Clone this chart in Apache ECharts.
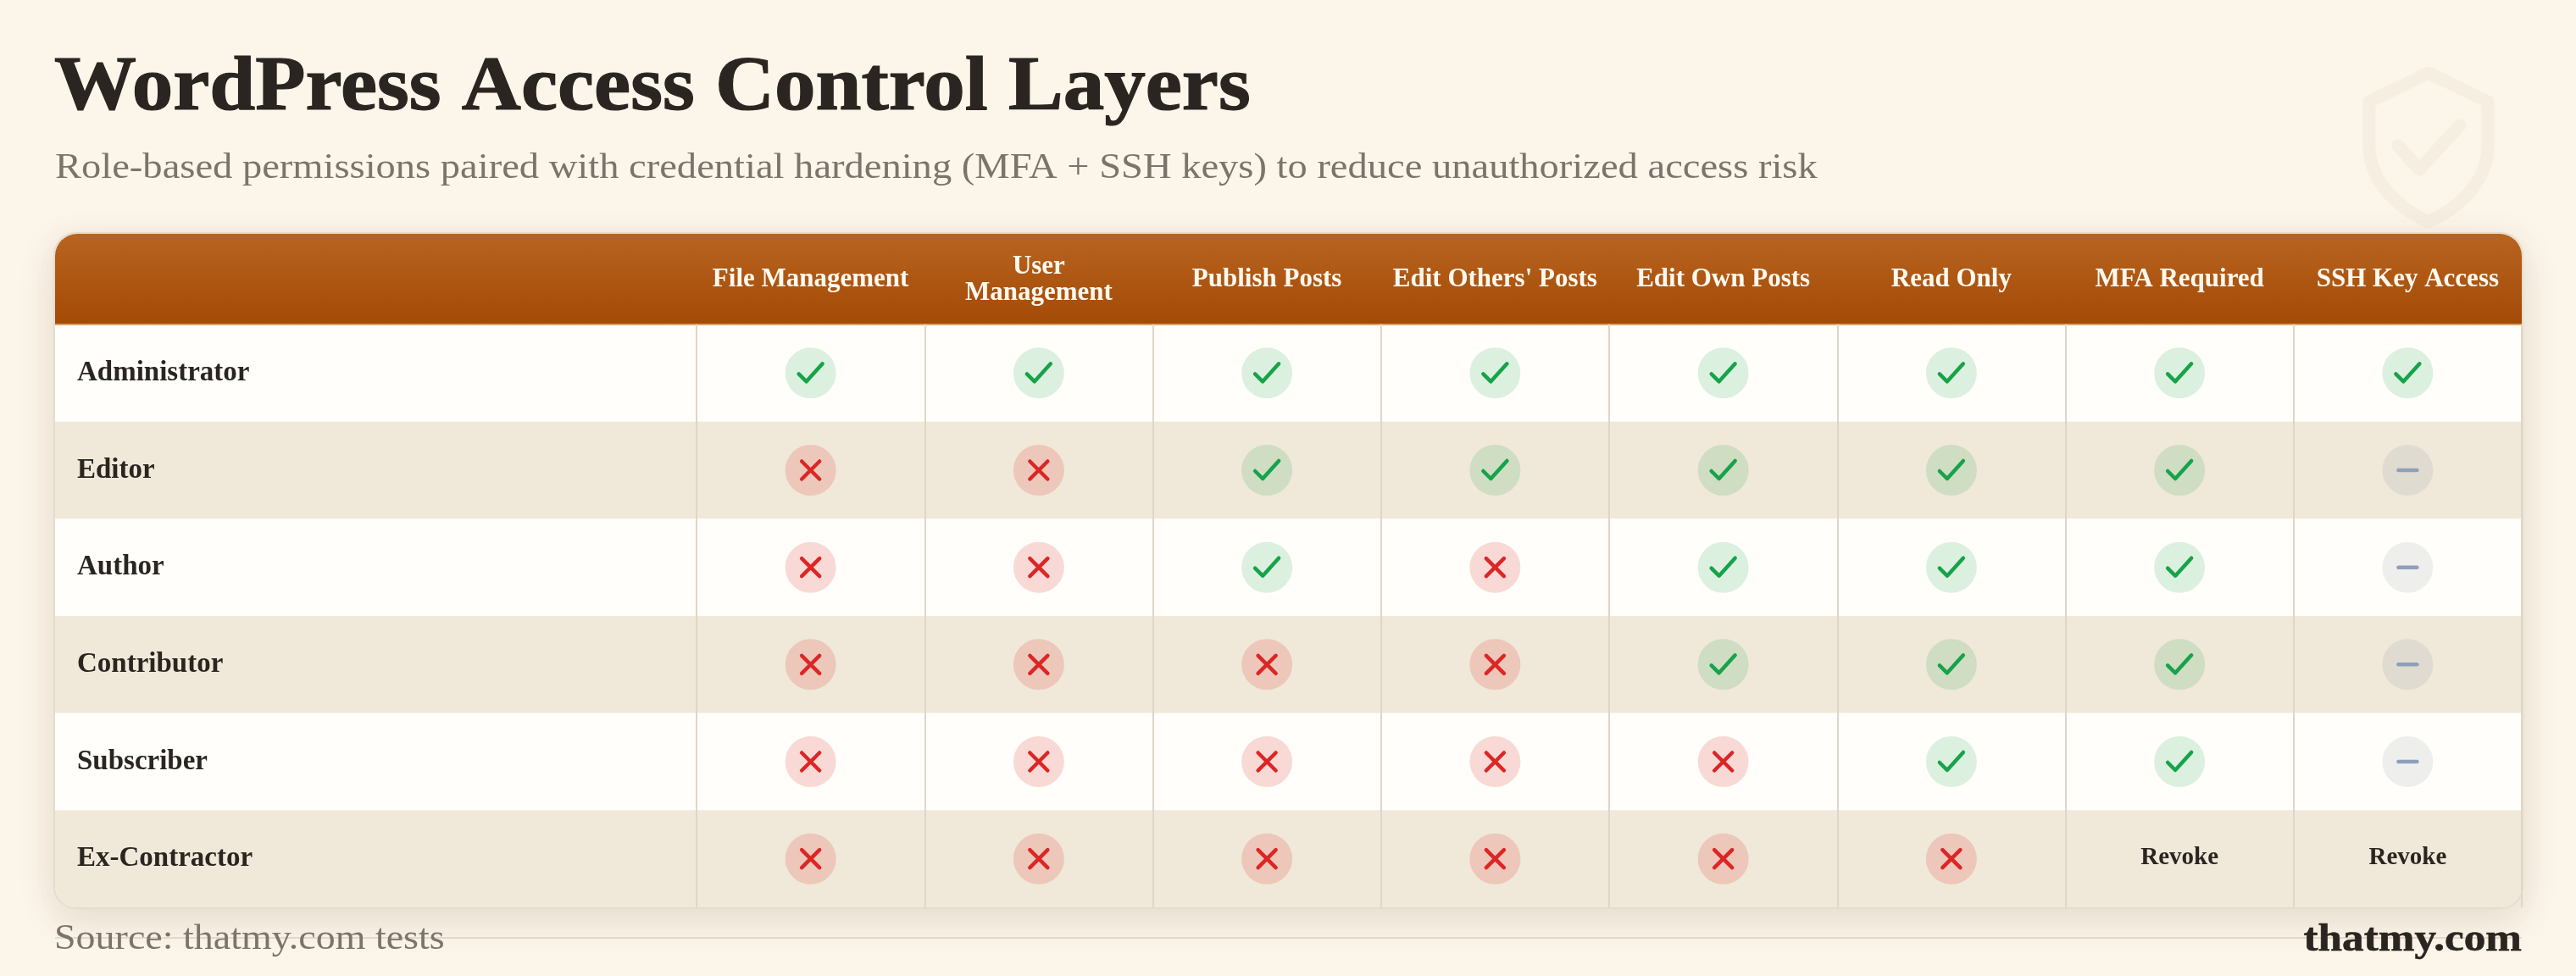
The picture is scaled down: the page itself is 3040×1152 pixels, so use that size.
<!DOCTYPE html>
<html>
<head>
<meta charset="utf-8">
<style>html,body{margin:0;padding:0;background:#fcf5ea}#chart{width:3040px;height:1152px}</style>
<script src="https://cdn.jsdelivr.net/npm/echarts@6/dist/echarts.min.js"></script>
</head>
<body>
<div id="chart"></div>
<script>
const permissions = ['File Management','User\nManagement','Publish Posts',"Edit Others' Posts",'Edit Own Posts','Read Only','MFA Required','SSH Key Access'];
const roles = ['Administrator','Editor','Author','Contributor','Subscriber','Ex-Contractor'];
const statusNames = ['yes','no','na','revoke'];
const administrator = ['yes','yes','yes','yes','yes','yes','yes','yes'];
const editor        = ['no','no','yes','yes','yes','yes','yes','na'];
const author        = ['no','no','yes','no','yes','yes','yes','na'];
const contributor   = ['no','no','no','no','yes','yes','yes','na'];
const subscriber    = ['no','no','no','no','no','yes','yes','na'];
const exContractor  = ['no','no','no','no','no','no','revoke','revoke'];
const matrix = [administrator, editor, author, contributor, subscriber, exContractor];

const serif = '"Liberation Serif", serif';
const T = {l:65, r:2976, top:276, head:383, bottom:1071, grid:822};
const rowH = (T.bottom - T.head) / roles.length;
const data = [];
matrix.forEach((row, r) => row.forEach((s, c) => data.push([c, r, statusNames.indexOf(s)])));

const bands = roles.map((_, i) => ({
  type:'rect', z:-5,
  shape:{x:T.l, y:T.head + i*rowH, width:T.r-T.l, height:rowH, r: i===roles.length-1 ? [0,0,24,24] : 0},
  style:{fill: i%2 ? '#f0e8d9' : '#fffefa'}
}));
const wm = {fill:'none', stroke:'#f7eee2', lineWidth:15, lineJoin:'round', lineCap:'round'};
const label = (text, x, y, size, weight, fill, scaleX, align, thick) => ({
  type:'text', z:-2, x, y, scaleX, style:{text, x:0, y:0, align:align||'left', verticalAlign:'middle',
    fontFamily:serif, fontWeight:weight, fontSize:size, fill, stroke:thick?fill:null, lineWidth:thick||0}
});

const chart = echarts.init(document.getElementById('chart'), null, {renderer:'canvas', width:3040, height:1152});
chart.setOption({
  animation:false,
  backgroundColor:'#fcf5ea',
  graphic:[
    {type:'polyline', z:-10, shape:{points:[[2796,172],[2796,120],[2866,86],[2936,120],[2936,172]]}, style:wm},
    {type:'bezierCurve', z:-10, shape:{x1:2796,y1:172,cpx1:2796,cpy1:215,cpx2:2830,cpy2:245,x2:2866,y2:262}, style:wm},
    {type:'bezierCurve', z:-10, shape:{x1:2936,y1:172,cpx1:2936,cpy1:215,cpx2:2902,cpy2:245,x2:2866,y2:262}, style:wm},
    {type:'polyline', z:-10, shape:{points:[[2830,172],[2855,200],[2903,148]]}, style:wm},
    {type:'line', z:-10, shape:{x1:T.l, y1:1107, x2:T.r, y2:1107}, style:{stroke:'#e6dccd', lineWidth:2}},
    {type:'rect', z:-6, shape:{x:T.l-1, y:T.top-1, width:T.r-T.l+2, height:T.bottom-T.top+2, r:26},
     style:{fill:'#fffefa', stroke:'#e6dccb', lineWidth:2, shadowBlur:44, shadowOffsetY:12, shadowColor:'rgba(90,60,20,0.14)'}},
    ...bands,
    {type:'rect', z:-4, shape:{x:T.l, y:T.top, width:T.r-T.l, height:T.head-T.top, r:[26,26,0,0]},
     style:{fill:new echarts.graphic.LinearGradient(0,0,0,1,[{offset:0,color:'#b86420'},{offset:1,color:'#a34a06'}])}},
    {type:'line', z:-3, shape:{x1:T.l, y1:T.head, x2:T.r, y2:T.head}, style:{stroke:'#dca26a', lineWidth:2}},
    label('WordPress Access Control Layers', 64, 105, 92, 'bold', '#2a2520', 1.055, 'left', 1.2),
    label('Role-based permissions paired with credential hardening (MFA + SSH keys) to reduce unauthorized access risk', 65, 199, 43, 'normal', '#7c746a', 1.082),
    label('Source: thatmy.com tests', 64, 1109, 42, 'normal', '#7c746a', 1.095),
    label('thatmy.com', 2976, 1110, 47, 'bold', '#2a2520', 1.09, 'right', 0.6)
  ],
  grid:{left:T.grid, top:T.head, width:T.r-T.grid, height:T.bottom-T.head, containLabel:false},
  xAxis:{type:'category', data:permissions, position:'top',
    axisLine:{show:false}, axisTick:{show:false},
    splitLine:{show:true, interval:0, lineStyle:{color:'#e0d6c8', width:2}},
    axisLabel:{interval:0, margin:53, verticalAlign:'middle', color:'#fff9f0', fontFamily:serif, fontWeight:'bold', fontSize:31, lineHeight:31}},
  yAxis:{type:'category', data:roles, inverse:true,
    axisLine:{show:false}, axisTick:{show:false}, splitLine:{show:false},
    axisLabel:{interval:0, margin:T.grid-91, align:'left', color:'#2a2520', fontFamily:serif, fontWeight:'bold', fontSize:33}},
  series:[{
    type:'custom', data:data, clip:false, encode:{x:0, y:1},
    renderItem(params, api){
      const p = api.coord([api.value(0), api.value(1)]);
      const cx = p[0], cy = p[1], s = statusNames[api.value(2)];
      if (s === 'revoke') return {type:'text', style:{text:'Revoke', x:cx, y:cy-1, align:'center', verticalAlign:'middle',
        fontFamily:serif, fontWeight:'bold', fontSize:29, fill:'#2a2520'}};
      const fill = {yes:'rgba(22,163,74,0.15)', no:'rgba(220,38,38,0.17)', na:'rgba(100,116,139,0.11)'}[s];
      const stroke = {yes:'#16a34a', no:'#dc2626', na:'#8f9fbb'}[s];
      const stroke_ = {stroke, fill:null, lineWidth:4.5, lineCap:'round', lineJoin:'round'};
      const children = [{type:'circle', shape:{cx, cy, r:30}, style:{fill}}];
      if (s === 'yes') children.push({type:'polyline', shape:{points:[[cx-14,cy+1],[cx-5,cy+10],[cx+14,cy-11]]}, style:stroke_});
      if (s === 'no') {
        children.push({type:'line', shape:{x1:cx-10.5,y1:cy-10.5,x2:cx+10.5,y2:cy+10.5}, style:stroke_});
        children.push({type:'line', shape:{x1:cx+10.5,y1:cy-10.5,x2:cx-10.5,y2:cy+10.5}, style:stroke_});
      }
      if (s === 'na') children.push({type:'line', shape:{x1:cx-11,y1:cy,x2:cx+11,y2:cy}, style:stroke_});
      return {type:'group', children};
    }
  }]
});
</script>
</body>
</html>
